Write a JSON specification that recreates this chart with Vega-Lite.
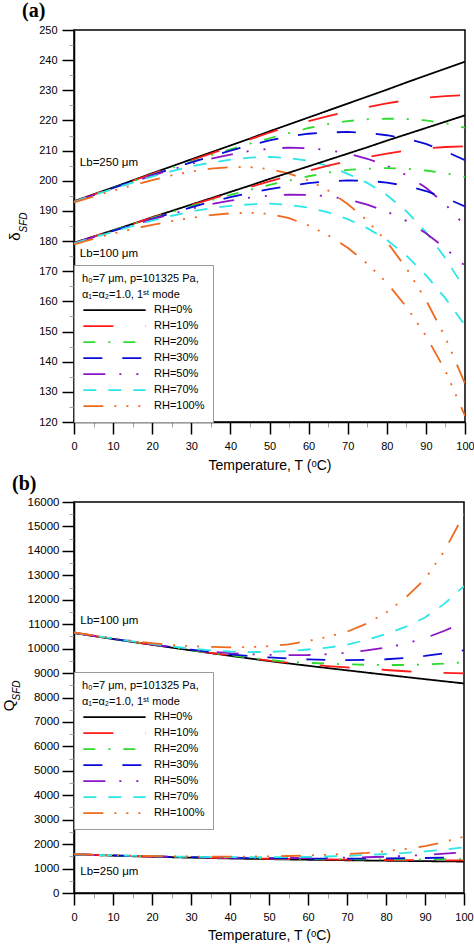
{
"$schema": "https://vega.github.io/schema/vega-lite/v6.json",
"background": "white",
"padding": {"left": 0, "top": 0, "right": 0, "bottom": 0},
"spacing": 0,
"config": {
 "font": "Liberation Sans",
 "view": {"stroke": "black", "strokeWidth": 1.5},
 "axis": {"grid": false, "domainColor": "black", "domainWidth": 1.5, "labelFont": "Liberation Sans", "labelFontSize": 11, "labelColor": "black", "titleFont": "Liberation Sans", "titleFontSize": 14, "titleFontWeight": "normal", "titleColor": "black", "labelFlush": false, "labelOverlap": false, "labelBound": false},
 "legend": {"titleFont": "Liberation Sans", "titleFontSize": 11, "titleFontWeight": "normal", "titleColor": "black", "titleLineHeight": 15.5, "titlePadding": 3, "titleLimit": 400, "labelFont": "Liberation Sans", "labelFontSize": 11, "labelColor": "black", "labelOffset": 7, "symbolType": "stroke", "symbolSize": 3880, "symbolStrokeWidth": 1.8, "clipHeight": 15.3, "rowPadding": 0, "padding": 8, "fillColor": "white", "strokeColor": "#9a9a9a"},
 "title": {"font": "Liberation Serif", "fontSize": 20, "fontWeight": "bold", "color": "black"}
},
"datasets": {
"a": [
{"L":250,"RH":"0%","T":0,"v":193.2},{"L":250,"RH":"0%","T":5,"v":195.5},{"L":250,"RH":"0%","T":10,"v":197.8},{"L":250,"RH":"0%","T":15,"v":200.1},{"L":250,"RH":"0%","T":20,"v":202.5},{"L":250,"RH":"0%","T":25,"v":204.8},{"L":250,"RH":"0%","T":30,"v":207.1},{"L":250,"RH":"0%","T":35,"v":209.4},{"L":250,"RH":"0%","T":40,"v":211.7},{"L":250,"RH":"0%","T":45,"v":214.0},{"L":250,"RH":"0%","T":50,"v":216.4},{"L":250,"RH":"0%","T":55,"v":218.7},{"L":250,"RH":"0%","T":60,"v":221.0},{"L":250,"RH":"0%","T":65,"v":223.3},{"L":250,"RH":"0%","T":70,"v":225.6},{"L":250,"RH":"0%","T":75,"v":227.9},{"L":250,"RH":"0%","T":80,"v":230.2},{"L":250,"RH":"0%","T":85,"v":232.6},{"L":250,"RH":"0%","T":90,"v":234.9},{"L":250,"RH":"0%","T":95,"v":237.2},{"L":250,"RH":"0%","T":100,"v":239.5},
{"L":250,"RH":"10%","T":0,"v":193.1},{"L":250,"RH":"10%","T":5,"v":195.4},{"L":250,"RH":"10%","T":10,"v":197.7},{"L":250,"RH":"10%","T":15,"v":200.0},{"L":250,"RH":"10%","T":20,"v":202.3},{"L":250,"RH":"10%","T":25,"v":204.6},{"L":250,"RH":"10%","T":30,"v":206.8},{"L":250,"RH":"10%","T":35,"v":209.0},{"L":250,"RH":"10%","T":40,"v":211.3},{"L":250,"RH":"10%","T":45,"v":213.7},{"L":250,"RH":"10%","T":50,"v":216.0},{"L":250,"RH":"10%","T":55,"v":218.1},{"L":250,"RH":"10%","T":60,"v":219.8},{"L":250,"RH":"10%","T":65,"v":221.4},{"L":250,"RH":"10%","T":70,"v":223.0},{"L":250,"RH":"10%","T":75,"v":224.4},{"L":250,"RH":"10%","T":80,"v":225.7},{"L":250,"RH":"10%","T":85,"v":226.7},{"L":250,"RH":"10%","T":90,"v":227.5},{"L":250,"RH":"10%","T":95,"v":228.1},{"L":250,"RH":"10%","T":100,"v":228.4},
{"L":250,"RH":"20%","T":0,"v":193.0},{"L":250,"RH":"20%","T":5,"v":195.3},{"L":250,"RH":"20%","T":10,"v":197.6},{"L":250,"RH":"20%","T":15,"v":199.8},{"L":250,"RH":"20%","T":20,"v":202.0},{"L":250,"RH":"20%","T":25,"v":204.2},{"L":250,"RH":"20%","T":30,"v":206.3},{"L":250,"RH":"20%","T":35,"v":208.4},{"L":250,"RH":"20%","T":40,"v":210.4},{"L":250,"RH":"20%","T":45,"v":212.3},{"L":250,"RH":"20%","T":50,"v":214.1},{"L":250,"RH":"20%","T":55,"v":215.8},{"L":250,"RH":"20%","T":60,"v":217.5},{"L":250,"RH":"20%","T":65,"v":218.8},{"L":250,"RH":"20%","T":70,"v":219.8},{"L":250,"RH":"20%","T":75,"v":220.4},{"L":250,"RH":"20%","T":80,"v":220.6},{"L":250,"RH":"20%","T":85,"v":220.5},{"L":250,"RH":"20%","T":90,"v":220.0},{"L":250,"RH":"20%","T":95,"v":219.1},{"L":250,"RH":"20%","T":100,"v":217.6},
{"L":250,"RH":"30%","T":0,"v":193.0},{"L":250,"RH":"30%","T":5,"v":195.3},{"L":250,"RH":"30%","T":10,"v":197.6},{"L":250,"RH":"30%","T":15,"v":199.8},{"L":250,"RH":"30%","T":20,"v":201.9},{"L":250,"RH":"30%","T":25,"v":204.0},{"L":250,"RH":"30%","T":30,"v":206.1},{"L":250,"RH":"30%","T":35,"v":208.1},{"L":250,"RH":"30%","T":40,"v":210.0},{"L":250,"RH":"30%","T":45,"v":211.8},{"L":250,"RH":"30%","T":50,"v":213.4},{"L":250,"RH":"30%","T":55,"v":214.7},{"L":250,"RH":"30%","T":60,"v":215.6},{"L":250,"RH":"30%","T":65,"v":216.0},{"L":250,"RH":"30%","T":70,"v":216.2},{"L":250,"RH":"30%","T":75,"v":215.9},{"L":250,"RH":"30%","T":80,"v":215.1},{"L":250,"RH":"30%","T":85,"v":214.0},{"L":250,"RH":"30%","T":90,"v":212.2},{"L":250,"RH":"30%","T":95,"v":209.8},{"L":250,"RH":"30%","T":100,"v":206.8},
{"L":250,"RH":"50%","T":0,"v":193.0},{"L":250,"RH":"50%","T":5,"v":195.2},{"L":250,"RH":"50%","T":10,"v":197.4},{"L":250,"RH":"50%","T":15,"v":199.6},{"L":250,"RH":"50%","T":20,"v":201.7},{"L":250,"RH":"50%","T":25,"v":203.7},{"L":250,"RH":"50%","T":30,"v":205.6},{"L":250,"RH":"50%","T":35,"v":207.3},{"L":250,"RH":"50%","T":40,"v":208.7},{"L":250,"RH":"50%","T":45,"v":209.9},{"L":250,"RH":"50%","T":50,"v":210.6},{"L":250,"RH":"50%","T":55,"v":211.0},{"L":250,"RH":"50%","T":60,"v":210.8},{"L":250,"RH":"50%","T":65,"v":210.2},{"L":250,"RH":"50%","T":70,"v":209.0},{"L":250,"RH":"50%","T":75,"v":207.3},{"L":250,"RH":"50%","T":80,"v":205.0},{"L":250,"RH":"50%","T":85,"v":201.9},{"L":250,"RH":"50%","T":90,"v":197.7},{"L":250,"RH":"50%","T":95,"v":192.2},{"L":250,"RH":"50%","T":100,"v":185.0},
{"L":250,"RH":"70%","T":0,"v":193.0},{"L":250,"RH":"70%","T":5,"v":195.2},{"L":250,"RH":"70%","T":10,"v":197.3},{"L":250,"RH":"70%","T":15,"v":199.4},{"L":250,"RH":"70%","T":20,"v":201.4},{"L":250,"RH":"70%","T":25,"v":203.2},{"L":250,"RH":"70%","T":30,"v":204.8},{"L":250,"RH":"70%","T":35,"v":206.0},{"L":250,"RH":"70%","T":40,"v":207.0},{"L":250,"RH":"70%","T":45,"v":207.7},{"L":250,"RH":"70%","T":50,"v":207.9},{"L":250,"RH":"70%","T":55,"v":207.5},{"L":250,"RH":"70%","T":60,"v":206.6},{"L":250,"RH":"70%","T":65,"v":204.9},{"L":250,"RH":"70%","T":70,"v":202.3},{"L":250,"RH":"70%","T":75,"v":199.3},{"L":250,"RH":"70%","T":80,"v":195.3},{"L":250,"RH":"70%","T":85,"v":189.9},{"L":250,"RH":"70%","T":90,"v":183.0},{"L":250,"RH":"70%","T":95,"v":174.3},{"L":250,"RH":"70%","T":100,"v":164.0},
{"L":250,"RH":"100%","T":0,"v":192.8},{"L":250,"RH":"100%","T":5,"v":194.8},{"L":250,"RH":"100%","T":10,"v":196.7},{"L":250,"RH":"100%","T":15,"v":198.5},{"L":250,"RH":"100%","T":20,"v":200.2},{"L":250,"RH":"100%","T":25,"v":201.8},{"L":250,"RH":"100%","T":30,"v":203.1},{"L":250,"RH":"100%","T":35,"v":204.0},{"L":250,"RH":"100%","T":40,"v":204.5},{"L":250,"RH":"100%","T":45,"v":204.5},{"L":250,"RH":"100%","T":50,"v":203.9},{"L":250,"RH":"100%","T":55,"v":202.4},{"L":250,"RH":"100%","T":60,"v":200.1},{"L":250,"RH":"100%","T":65,"v":196.8},{"L":250,"RH":"100%","T":70,"v":192.3},{"L":250,"RH":"100%","T":75,"v":186.8},{"L":250,"RH":"100%","T":80,"v":179.8},{"L":250,"RH":"100%","T":85,"v":171.0},{"L":250,"RH":"100%","T":90,"v":160.5},{"L":250,"RH":"100%","T":95,"v":148.0},{"L":250,"RH":"100%","T":100,"v":132.7},
{"L":100,"RH":"0%","T":0,"v":179.4},{"L":100,"RH":"0%","T":5,"v":181.5},{"L":100,"RH":"0%","T":10,"v":183.6},{"L":100,"RH":"0%","T":15,"v":185.7},{"L":100,"RH":"0%","T":20,"v":187.9},{"L":100,"RH":"0%","T":25,"v":190.0},{"L":100,"RH":"0%","T":30,"v":192.1},{"L":100,"RH":"0%","T":35,"v":194.2},{"L":100,"RH":"0%","T":40,"v":196.3},{"L":100,"RH":"0%","T":45,"v":198.4},{"L":100,"RH":"0%","T":50,"v":200.6},{"L":100,"RH":"0%","T":55,"v":202.7},{"L":100,"RH":"0%","T":60,"v":204.8},{"L":100,"RH":"0%","T":65,"v":206.9},{"L":100,"RH":"0%","T":70,"v":209.0},{"L":100,"RH":"0%","T":75,"v":211.1},{"L":100,"RH":"0%","T":80,"v":213.3},{"L":100,"RH":"0%","T":85,"v":215.4},{"L":100,"RH":"0%","T":90,"v":217.5},{"L":100,"RH":"0%","T":95,"v":219.6},{"L":100,"RH":"0%","T":100,"v":221.7},
{"L":100,"RH":"10%","T":0,"v":179.4},{"L":100,"RH":"10%","T":5,"v":181.5},{"L":100,"RH":"10%","T":10,"v":183.6},{"L":100,"RH":"10%","T":15,"v":185.7},{"L":100,"RH":"10%","T":20,"v":187.8},{"L":100,"RH":"10%","T":25,"v":189.9},{"L":100,"RH":"10%","T":30,"v":191.9},{"L":100,"RH":"10%","T":35,"v":193.9},{"L":100,"RH":"10%","T":40,"v":195.9},{"L":100,"RH":"10%","T":45,"v":197.9},{"L":100,"RH":"10%","T":50,"v":199.8},{"L":100,"RH":"10%","T":55,"v":201.6},{"L":100,"RH":"10%","T":60,"v":203.3},{"L":100,"RH":"10%","T":65,"v":205.0},{"L":100,"RH":"10%","T":70,"v":206.5},{"L":100,"RH":"10%","T":75,"v":207.8},{"L":100,"RH":"10%","T":80,"v":209.0},{"L":100,"RH":"10%","T":85,"v":210.0},{"L":100,"RH":"10%","T":90,"v":210.8},{"L":100,"RH":"10%","T":95,"v":211.2},{"L":100,"RH":"10%","T":100,"v":211.4},
{"L":100,"RH":"20%","T":0,"v":179.3},{"L":100,"RH":"20%","T":5,"v":181.4},{"L":100,"RH":"20%","T":10,"v":183.5},{"L":100,"RH":"20%","T":15,"v":185.6},{"L":100,"RH":"20%","T":20,"v":187.6},{"L":100,"RH":"20%","T":25,"v":189.6},{"L":100,"RH":"20%","T":30,"v":191.6},{"L":100,"RH":"20%","T":35,"v":193.5},{"L":100,"RH":"20%","T":40,"v":195.3},{"L":100,"RH":"20%","T":45,"v":197.0},{"L":100,"RH":"20%","T":50,"v":198.6},{"L":100,"RH":"20%","T":55,"v":200.1},{"L":100,"RH":"20%","T":60,"v":201.5},{"L":100,"RH":"20%","T":65,"v":202.7},{"L":100,"RH":"20%","T":70,"v":203.6},{"L":100,"RH":"20%","T":75,"v":204.0},{"L":100,"RH":"20%","T":80,"v":204.2},{"L":100,"RH":"20%","T":85,"v":204.0},{"L":100,"RH":"20%","T":90,"v":203.4},{"L":100,"RH":"20%","T":95,"v":202.5},{"L":100,"RH":"20%","T":100,"v":201.3},
{"L":100,"RH":"30%","T":0,"v":179.3},{"L":100,"RH":"30%","T":5,"v":181.4},{"L":100,"RH":"30%","T":10,"v":183.4},{"L":100,"RH":"30%","T":15,"v":185.4},{"L":100,"RH":"30%","T":20,"v":187.4},{"L":100,"RH":"30%","T":25,"v":189.3},{"L":100,"RH":"30%","T":30,"v":191.2},{"L":100,"RH":"30%","T":35,"v":193.0},{"L":100,"RH":"30%","T":40,"v":194.6},{"L":100,"RH":"30%","T":45,"v":196.0},{"L":100,"RH":"30%","T":50,"v":197.2},{"L":100,"RH":"30%","T":55,"v":198.3},{"L":100,"RH":"30%","T":60,"v":199.2},{"L":100,"RH":"30%","T":65,"v":199.8},{"L":100,"RH":"30%","T":70,"v":200.1},{"L":100,"RH":"30%","T":75,"v":200.0},{"L":100,"RH":"30%","T":80,"v":199.4},{"L":100,"RH":"30%","T":85,"v":198.3},{"L":100,"RH":"30%","T":90,"v":196.6},{"L":100,"RH":"30%","T":95,"v":194.3},{"L":100,"RH":"30%","T":100,"v":191.5},
{"L":100,"RH":"50%","T":0,"v":179.3},{"L":100,"RH":"50%","T":5,"v":181.3},{"L":100,"RH":"50%","T":10,"v":183.3},{"L":100,"RH":"50%","T":15,"v":185.3},{"L":100,"RH":"50%","T":20,"v":187.2},{"L":100,"RH":"50%","T":25,"v":189.0},{"L":100,"RH":"50%","T":30,"v":190.7},{"L":100,"RH":"50%","T":35,"v":192.2},{"L":100,"RH":"50%","T":40,"v":193.4},{"L":100,"RH":"50%","T":45,"v":194.4},{"L":100,"RH":"50%","T":50,"v":195.1},{"L":100,"RH":"50%","T":55,"v":195.4},{"L":100,"RH":"50%","T":60,"v":195.3},{"L":100,"RH":"50%","T":65,"v":194.9},{"L":100,"RH":"50%","T":70,"v":193.8},{"L":100,"RH":"50%","T":75,"v":192.1},{"L":100,"RH":"50%","T":80,"v":189.8},{"L":100,"RH":"50%","T":85,"v":186.7},{"L":100,"RH":"50%","T":90,"v":182.6},{"L":100,"RH":"50%","T":95,"v":177.6},{"L":100,"RH":"50%","T":100,"v":171.8},
{"L":100,"RH":"70%","T":0,"v":179.2},{"L":100,"RH":"70%","T":5,"v":181.2},{"L":100,"RH":"70%","T":10,"v":183.1},{"L":100,"RH":"70%","T":15,"v":185.0},{"L":100,"RH":"70%","T":20,"v":186.8},{"L":100,"RH":"70%","T":25,"v":188.4},{"L":100,"RH":"70%","T":30,"v":189.8},{"L":100,"RH":"70%","T":35,"v":190.9},{"L":100,"RH":"70%","T":40,"v":191.7},{"L":100,"RH":"70%","T":45,"v":192.2},{"L":100,"RH":"70%","T":50,"v":192.4},{"L":100,"RH":"70%","T":55,"v":192.0},{"L":100,"RH":"70%","T":60,"v":191.1},{"L":100,"RH":"70%","T":65,"v":189.5},{"L":100,"RH":"70%","T":70,"v":187.3},{"L":100,"RH":"70%","T":75,"v":184.3},{"L":100,"RH":"70%","T":80,"v":180.4},{"L":100,"RH":"70%","T":85,"v":175.2},{"L":100,"RH":"70%","T":90,"v":168.7},{"L":100,"RH":"70%","T":95,"v":161.0},{"L":100,"RH":"70%","T":100,"v":152.0},
{"L":100,"RH":"100%","T":0,"v":178.9},{"L":100,"RH":"100%","T":5,"v":180.8},{"L":100,"RH":"100%","T":10,"v":182.5},{"L":100,"RH":"100%","T":15,"v":184.0},{"L":100,"RH":"100%","T":20,"v":185.4},{"L":100,"RH":"100%","T":25,"v":186.6},{"L":100,"RH":"100%","T":30,"v":187.7},{"L":100,"RH":"100%","T":35,"v":188.6},{"L":100,"RH":"100%","T":40,"v":189.2},{"L":100,"RH":"100%","T":45,"v":189.4},{"L":100,"RH":"100%","T":50,"v":189.0},{"L":100,"RH":"100%","T":55,"v":187.6},{"L":100,"RH":"100%","T":60,"v":185.2},{"L":100,"RH":"100%","T":65,"v":181.9},{"L":100,"RH":"100%","T":70,"v":177.8},{"L":100,"RH":"100%","T":75,"v":172.5},{"L":100,"RH":"100%","T":80,"v":166.2},{"L":100,"RH":"100%","T":85,"v":158.2},{"L":100,"RH":"100%","T":90,"v":148.6},{"L":100,"RH":"100%","T":95,"v":137.0},{"L":100,"RH":"100%","T":100,"v":122.0}
],
"b": [
{"L":100,"RH":"0%","T":0,"v":10640},{"L":100,"RH":"0%","T":5,"v":10515},{"L":100,"RH":"0%","T":10,"v":10393},{"L":100,"RH":"0%","T":15,"v":10274},{"L":100,"RH":"0%","T":20,"v":10157},{"L":100,"RH":"0%","T":25,"v":10042},{"L":100,"RH":"0%","T":30,"v":9929},{"L":100,"RH":"0%","T":35,"v":9818},{"L":100,"RH":"0%","T":40,"v":9707},{"L":100,"RH":"0%","T":45,"v":9598},{"L":100,"RH":"0%","T":50,"v":9490},{"L":100,"RH":"0%","T":55,"v":9394},{"L":100,"RH":"0%","T":60,"v":9299},{"L":100,"RH":"0%","T":65,"v":9205},{"L":100,"RH":"0%","T":70,"v":9112},{"L":100,"RH":"0%","T":75,"v":9020},{"L":100,"RH":"0%","T":80,"v":8929},{"L":100,"RH":"0%","T":85,"v":8839},{"L":100,"RH":"0%","T":90,"v":8750},{"L":100,"RH":"0%","T":95,"v":8662},{"L":100,"RH":"0%","T":100,"v":8575},
{"L":100,"RH":"10%","T":0,"v":10645},{"L":100,"RH":"10%","T":5,"v":10520},{"L":100,"RH":"10%","T":10,"v":10398},{"L":100,"RH":"10%","T":15,"v":10280},{"L":100,"RH":"10%","T":20,"v":10163},{"L":100,"RH":"10%","T":25,"v":10050},{"L":100,"RH":"10%","T":30,"v":9938},{"L":100,"RH":"10%","T":35,"v":9828},{"L":100,"RH":"10%","T":40,"v":9720},{"L":100,"RH":"10%","T":45,"v":9614},{"L":100,"RH":"10%","T":50,"v":9512},{"L":100,"RH":"10%","T":55,"v":9425},{"L":100,"RH":"10%","T":60,"v":9350},{"L":100,"RH":"10%","T":65,"v":9288},{"L":100,"RH":"10%","T":70,"v":9232},{"L":100,"RH":"10%","T":75,"v":9178},{"L":100,"RH":"10%","T":80,"v":9125},{"L":100,"RH":"10%","T":85,"v":9075},{"L":100,"RH":"10%","T":90,"v":9035},{"L":100,"RH":"10%","T":95,"v":9005},{"L":100,"RH":"10%","T":100,"v":8990},
{"L":100,"RH":"20%","T":0,"v":10645},{"L":100,"RH":"20%","T":5,"v":10522},{"L":100,"RH":"20%","T":10,"v":10400},{"L":100,"RH":"20%","T":15,"v":10282},{"L":100,"RH":"20%","T":20,"v":10166},{"L":100,"RH":"20%","T":25,"v":10053},{"L":100,"RH":"20%","T":30,"v":9943},{"L":100,"RH":"20%","T":35,"v":9836},{"L":100,"RH":"20%","T":40,"v":9732},{"L":100,"RH":"20%","T":45,"v":9630},{"L":100,"RH":"20%","T":50,"v":9535},{"L":100,"RH":"20%","T":55,"v":9465},{"L":100,"RH":"20%","T":60,"v":9418},{"L":100,"RH":"20%","T":65,"v":9385},{"L":100,"RH":"20%","T":70,"v":9358},{"L":100,"RH":"20%","T":75,"v":9338},{"L":100,"RH":"20%","T":80,"v":9330},{"L":100,"RH":"20%","T":85,"v":9330},{"L":100,"RH":"20%","T":90,"v":9348},{"L":100,"RH":"20%","T":95,"v":9390},{"L":100,"RH":"20%","T":100,"v":9440},
{"L":100,"RH":"30%","T":0,"v":10648},{"L":100,"RH":"30%","T":5,"v":10525},{"L":100,"RH":"30%","T":10,"v":10403},{"L":100,"RH":"30%","T":15,"v":10286},{"L":100,"RH":"30%","T":20,"v":10172},{"L":100,"RH":"30%","T":25,"v":10062},{"L":100,"RH":"30%","T":30,"v":9956},{"L":100,"RH":"30%","T":35,"v":9855},{"L":100,"RH":"30%","T":40,"v":9765},{"L":100,"RH":"30%","T":45,"v":9695},{"L":100,"RH":"30%","T":50,"v":9640},{"L":100,"RH":"30%","T":55,"v":9595},{"L":100,"RH":"30%","T":60,"v":9560},{"L":100,"RH":"30%","T":65,"v":9538},{"L":100,"RH":"30%","T":70,"v":9530},{"L":100,"RH":"30%","T":75,"v":9538},{"L":100,"RH":"30%","T":80,"v":9565},{"L":100,"RH":"30%","T":85,"v":9620},{"L":100,"RH":"30%","T":90,"v":9705},{"L":100,"RH":"30%","T":95,"v":9810},{"L":100,"RH":"30%","T":100,"v":9930},
{"L":100,"RH":"50%","T":0,"v":10650},{"L":100,"RH":"50%","T":5,"v":10527},{"L":100,"RH":"50%","T":10,"v":10405},{"L":100,"RH":"50%","T":15,"v":10290},{"L":100,"RH":"50%","T":20,"v":10177},{"L":100,"RH":"50%","T":25,"v":10068},{"L":100,"RH":"50%","T":30,"v":9965},{"L":100,"RH":"50%","T":35,"v":9880},{"L":100,"RH":"50%","T":40,"v":9815},{"L":100,"RH":"50%","T":45,"v":9772},{"L":100,"RH":"50%","T":50,"v":9745},{"L":100,"RH":"50%","T":55,"v":9732},{"L":100,"RH":"50%","T":60,"v":9740},{"L":100,"RH":"50%","T":65,"v":9772},{"L":100,"RH":"50%","T":70,"v":9830},{"L":100,"RH":"50%","T":75,"v":9925},{"L":100,"RH":"50%","T":80,"v":10040},{"L":100,"RH":"50%","T":85,"v":10200},{"L":100,"RH":"50%","T":90,"v":10430},{"L":100,"RH":"50%","T":95,"v":10730},{"L":100,"RH":"50%","T":100,"v":11090},
{"L":100,"RH":"70%","T":0,"v":10652},{"L":100,"RH":"70%","T":5,"v":10530},{"L":100,"RH":"70%","T":10,"v":10410},{"L":100,"RH":"70%","T":15,"v":10296},{"L":100,"RH":"70%","T":20,"v":10190},{"L":100,"RH":"70%","T":25,"v":10090},{"L":100,"RH":"70%","T":30,"v":10002},{"L":100,"RH":"70%","T":35,"v":9932},{"L":100,"RH":"70%","T":40,"v":9882},{"L":100,"RH":"70%","T":45,"v":9860},{"L":100,"RH":"70%","T":50,"v":9865},{"L":100,"RH":"70%","T":55,"v":9902},{"L":100,"RH":"70%","T":60,"v":9965},{"L":100,"RH":"70%","T":65,"v":10040},{"L":100,"RH":"70%","T":70,"v":10155},{"L":100,"RH":"70%","T":75,"v":10360},{"L":100,"RH":"70%","T":80,"v":10600},{"L":100,"RH":"70%","T":85,"v":10890},{"L":100,"RH":"70%","T":90,"v":11270},{"L":100,"RH":"70%","T":95,"v":11840},{"L":100,"RH":"70%","T":100,"v":12560},
{"L":100,"RH":"100%","T":0,"v":10660},{"L":100,"RH":"100%","T":5,"v":10545},{"L":100,"RH":"100%","T":10,"v":10430},{"L":100,"RH":"100%","T":15,"v":10320},{"L":100,"RH":"100%","T":20,"v":10220},{"L":100,"RH":"100%","T":25,"v":10150},{"L":100,"RH":"100%","T":30,"v":10100},{"L":100,"RH":"100%","T":35,"v":10070},{"L":100,"RH":"100%","T":40,"v":10055},{"L":100,"RH":"100%","T":45,"v":10062},{"L":100,"RH":"100%","T":50,"v":10100},{"L":100,"RH":"100%","T":55,"v":10170},{"L":100,"RH":"100%","T":60,"v":10310},{"L":100,"RH":"100%","T":65,"v":10480},{"L":100,"RH":"100%","T":70,"v":10690},{"L":100,"RH":"100%","T":75,"v":11020},{"L":100,"RH":"100%","T":80,"v":11470},{"L":100,"RH":"100%","T":85,"v":12080},{"L":100,"RH":"100%","T":90,"v":12850},{"L":100,"RH":"100%","T":95,"v":14000},{"L":100,"RH":"100%","T":100,"v":15500},
{"L":250,"RH":"0%","T":0,"v":1582},{"L":250,"RH":"0%","T":5,"v":1554},{"L":250,"RH":"0%","T":10,"v":1528},{"L":250,"RH":"0%","T":15,"v":1505},{"L":250,"RH":"0%","T":20,"v":1484},{"L":250,"RH":"0%","T":25,"v":1464},{"L":250,"RH":"0%","T":30,"v":1446},{"L":250,"RH":"0%","T":35,"v":1429},{"L":250,"RH":"0%","T":40,"v":1413},{"L":250,"RH":"0%","T":45,"v":1399},{"L":250,"RH":"0%","T":50,"v":1386},{"L":250,"RH":"0%","T":55,"v":1373},{"L":250,"RH":"0%","T":60,"v":1361},{"L":250,"RH":"0%","T":65,"v":1350},{"L":250,"RH":"0%","T":70,"v":1340},{"L":250,"RH":"0%","T":75,"v":1330},{"L":250,"RH":"0%","T":80,"v":1321},{"L":250,"RH":"0%","T":85,"v":1312},{"L":250,"RH":"0%","T":90,"v":1303},{"L":250,"RH":"0%","T":95,"v":1295},{"L":250,"RH":"0%","T":100,"v":1287},
{"L":250,"RH":"10%","T":0,"v":1585},{"L":250,"RH":"10%","T":5,"v":1557},{"L":250,"RH":"10%","T":10,"v":1533},{"L":250,"RH":"10%","T":15,"v":1512},{"L":250,"RH":"10%","T":20,"v":1492},{"L":250,"RH":"10%","T":25,"v":1474},{"L":250,"RH":"10%","T":30,"v":1457},{"L":250,"RH":"10%","T":35,"v":1441},{"L":250,"RH":"10%","T":40,"v":1427},{"L":250,"RH":"10%","T":45,"v":1414},{"L":250,"RH":"10%","T":50,"v":1402},{"L":250,"RH":"10%","T":55,"v":1390},{"L":250,"RH":"10%","T":60,"v":1380},{"L":250,"RH":"10%","T":65,"v":1371},{"L":250,"RH":"10%","T":70,"v":1363},{"L":250,"RH":"10%","T":75,"v":1356},{"L":250,"RH":"10%","T":80,"v":1350},{"L":250,"RH":"10%","T":85,"v":1345},{"L":250,"RH":"10%","T":90,"v":1341},{"L":250,"RH":"10%","T":95,"v":1338},{"L":250,"RH":"10%","T":100,"v":1336},
{"L":250,"RH":"20%","T":0,"v":1585},{"L":250,"RH":"20%","T":5,"v":1558},{"L":250,"RH":"20%","T":10,"v":1535},{"L":250,"RH":"20%","T":15,"v":1514},{"L":250,"RH":"20%","T":20,"v":1495},{"L":250,"RH":"20%","T":25,"v":1478},{"L":250,"RH":"20%","T":30,"v":1462},{"L":250,"RH":"20%","T":35,"v":1448},{"L":250,"RH":"20%","T":40,"v":1435},{"L":250,"RH":"20%","T":45,"v":1423},{"L":250,"RH":"20%","T":50,"v":1412},{"L":250,"RH":"20%","T":55,"v":1402},{"L":250,"RH":"20%","T":60,"v":1394},{"L":250,"RH":"20%","T":65,"v":1388},{"L":250,"RH":"20%","T":70,"v":1383},{"L":250,"RH":"20%","T":75,"v":1380},{"L":250,"RH":"20%","T":80,"v":1378},{"L":250,"RH":"20%","T":85,"v":1378},{"L":250,"RH":"20%","T":90,"v":1380},{"L":250,"RH":"20%","T":95,"v":1385},{"L":250,"RH":"20%","T":100,"v":1392},
{"L":250,"RH":"30%","T":0,"v":1585},{"L":250,"RH":"30%","T":5,"v":1558},{"L":250,"RH":"30%","T":10,"v":1535},{"L":250,"RH":"30%","T":15,"v":1515},{"L":250,"RH":"30%","T":20,"v":1497},{"L":250,"RH":"30%","T":25,"v":1480},{"L":250,"RH":"30%","T":30,"v":1465},{"L":250,"RH":"30%","T":35,"v":1452},{"L":250,"RH":"30%","T":40,"v":1440},{"L":250,"RH":"30%","T":45,"v":1430},{"L":250,"RH":"30%","T":50,"v":1422},{"L":250,"RH":"30%","T":55,"v":1415},{"L":250,"RH":"30%","T":60,"v":1410},{"L":250,"RH":"30%","T":65,"v":1408},{"L":250,"RH":"30%","T":70,"v":1408},{"L":250,"RH":"30%","T":75,"v":1410},{"L":250,"RH":"30%","T":80,"v":1415},{"L":250,"RH":"30%","T":85,"v":1422},{"L":250,"RH":"30%","T":90,"v":1432},{"L":250,"RH":"30%","T":95,"v":1445},{"L":250,"RH":"30%","T":100,"v":1460},
{"L":250,"RH":"50%","T":0,"v":1585},{"L":250,"RH":"50%","T":5,"v":1560},{"L":250,"RH":"50%","T":10,"v":1538},{"L":250,"RH":"50%","T":15,"v":1518},{"L":250,"RH":"50%","T":20,"v":1500},{"L":250,"RH":"50%","T":25,"v":1485},{"L":250,"RH":"50%","T":30,"v":1470},{"L":250,"RH":"50%","T":35,"v":1458},{"L":250,"RH":"50%","T":40,"v":1448},{"L":250,"RH":"50%","T":45,"v":1440},{"L":250,"RH":"50%","T":50,"v":1435},{"L":250,"RH":"50%","T":55,"v":1432},{"L":250,"RH":"50%","T":60,"v":1432},{"L":250,"RH":"50%","T":65,"v":1437},{"L":250,"RH":"50%","T":70,"v":1447},{"L":250,"RH":"50%","T":75,"v":1462},{"L":250,"RH":"50%","T":80,"v":1485},{"L":250,"RH":"50%","T":85,"v":1515},{"L":250,"RH":"50%","T":90,"v":1560},{"L":250,"RH":"50%","T":95,"v":1610},{"L":250,"RH":"50%","T":100,"v":1665},
{"L":250,"RH":"70%","T":0,"v":1585},{"L":250,"RH":"70%","T":5,"v":1560},{"L":250,"RH":"70%","T":10,"v":1540},{"L":250,"RH":"70%","T":15,"v":1522},{"L":250,"RH":"70%","T":20,"v":1506},{"L":250,"RH":"70%","T":25,"v":1492},{"L":250,"RH":"70%","T":30,"v":1480},{"L":250,"RH":"70%","T":35,"v":1472},{"L":250,"RH":"70%","T":40,"v":1466},{"L":250,"RH":"70%","T":45,"v":1463},{"L":250,"RH":"70%","T":50,"v":1463},{"L":250,"RH":"70%","T":55,"v":1468},{"L":250,"RH":"70%","T":60,"v":1478},{"L":250,"RH":"70%","T":65,"v":1493},{"L":250,"RH":"70%","T":70,"v":1520},{"L":250,"RH":"70%","T":75,"v":1555},{"L":250,"RH":"70%","T":80,"v":1595},{"L":250,"RH":"70%","T":85,"v":1640},{"L":250,"RH":"70%","T":90,"v":1700},{"L":250,"RH":"70%","T":95,"v":1775},{"L":250,"RH":"70%","T":100,"v":1870},
{"L":250,"RH":"100%","T":0,"v":1590},{"L":250,"RH":"100%","T":5,"v":1565},{"L":250,"RH":"100%","T":10,"v":1545},{"L":250,"RH":"100%","T":15,"v":1528},{"L":250,"RH":"100%","T":20,"v":1512},{"L":250,"RH":"100%","T":25,"v":1500},{"L":250,"RH":"100%","T":30,"v":1492},{"L":250,"RH":"100%","T":35,"v":1488},{"L":250,"RH":"100%","T":40,"v":1488},{"L":250,"RH":"100%","T":45,"v":1492},{"L":250,"RH":"100%","T":50,"v":1500},{"L":250,"RH":"100%","T":55,"v":1515},{"L":250,"RH":"100%","T":60,"v":1538},{"L":250,"RH":"100%","T":65,"v":1565},{"L":250,"RH":"100%","T":70,"v":1595},{"L":250,"RH":"100%","T":75,"v":1640},{"L":250,"RH":"100%","T":80,"v":1710},{"L":250,"RH":"100%","T":85,"v":1800},{"L":250,"RH":"100%","T":90,"v":1920},{"L":250,"RH":"100%","T":95,"v":2090},{"L":250,"RH":"100%","T":100,"v":2310}
]
},
"vconcat": [
{
 "width": 391, "height": 392,
 "title": {"text": "(a)", "anchor": "start", "frame": "group", "offset": 3, "dx": -52},
 "encoding": {
  "x": {"field": "T", "type": "quantitative", "scale": {"domain": [0, 100], "nice": false},
   "axis": {"values": [0,5,10,15,20,25,30,35,40,45,50,55,60,65,70,75,80,85,90,95,100], "labelExpr": "datum.value % 10 === 0 ? datum.label : ''", "labelOverlap": false,
    "tickSize": {"condition": {"test": "datum.value % 10 === 0", "value": 12}, "value": 5},
    "tickColor": {"condition": {"test": "datum.value % 10 === 0", "value": "black"}, "value": "#a0a0a0"},
    "tickWidth": {"condition": {"test": "datum.value % 10 === 0", "value": 1.5}, "value": 1},
    "labelPadding": 6, "title": "Temperature, T (ᵒC)", "titlePadding": 7}}
 },
 "layer": [
  {
   "data": {"name": "a"},
   "mark": {"type": "line", "strokeWidth": 1.8, "clip": true},
   "encoding": {
    "y": {"field": "v", "type": "quantitative", "scale": {"domain": [120, 250], "nice": false, "zero": false},
     "axis": {"values": [120,125,130,135,140,145,150,155,160,165,170,175,180,185,190,195,200,205,210,215,220,225,230,235,240,245,250], "labelExpr": "datum.value % 10 === 0 ? datum.label : ''", "labelOverlap": false,
      "tickSize": {"condition": {"test": "datum.value % 10 === 0", "value": 12}, "value": 5},
      "tickColor": {"condition": {"test": "datum.value % 10 === 0", "value": "black"}, "value": "#a0a0a0"},
      "tickWidth": {"condition": {"test": "datum.value % 10 === 0", "value": 1.5}, "value": 1},
      "labelPadding": 5, "title": "δ", "titleX": -55, "titleY": 206, "titleBaseline": "alphabetic", "titleFontSize": 15}},
    "color": {"field": "RH", "type": "nominal", "scale": {"domain": ["0%","10%","20%","30%","50%","70%","100%"], "range": ["#000000","#ff1a1a","#2edc2e","#0a0ad8","#8a14c8","#2ee6e6","#f06a1e"]},
     "legend": {"orient": "none", "legendX": 0, "legendY": 235, "title": ["h₀=7 μm, p=101325 Pa,", "α₁=α₂=1.0, 1ˢᵗ mode"], "labelExpr": "'RH=' + datum.label"}},
    "strokeDash": {"field": "RH", "type": "nominal", "scale": {"domain": ["0%","10%","20%","30%","50%","70%","100%"], "range": [[1,0],[30,32],[12,13,2,13],[19,20],[22,14,2,15,2,17],[13,12],[20,11,2,10,2,10,2,12]]},
     "legend": {"orient": "none", "legendX": 0, "legendY": 235, "title": ["h₀=7 μm, p=101325 Pa,", "α₁=α₂=1.0, 1ˢᵗ mode"], "labelExpr": "'RH=' + datum.label"}},
    "detail": {"field": "L", "type": "nominal"}
   }
  },
  {
   "data": {"values": [{"T": 1.5, "v": 205.8, "label": "Lb=250 μm"}, {"T": 1.5, "v": 175.8, "label": "Lb=100 μm"}]},
   "mark": {"type": "text", "align": "left", "baseline": "middle", "fontSize": 11.5, "font": "Liberation Sans", "color": "black"},
   "encoding": {
    "y": {"field": "v", "type": "quantitative", "axis": {"orient": "left", "labels": false, "ticks": false, "domain": false, "title": "SFD", "titleFontStyle": "italic", "titleFontSize": 10, "titleX": -48, "titleY": 192, "titleBaseline": "alphabetic"}},
    "text": {"field": "label"}
   }
  }
 ],
 "resolve": {"axis": {"y": "independent"}}
},
{
 "width": 390, "height": 391,
 "title": {"text": "(b)", "anchor": "start", "frame": "group", "offset": 2, "dx": -62},
 "encoding": {
  "x": {"field": "T", "type": "quantitative", "scale": {"domain": [0, 100], "nice": false},
   "axis": {"values": [0,5,10,15,20,25,30,35,40,45,50,55,60,65,70,75,80,85,90,95,100], "labelExpr": "datum.value % 10 === 0 ? datum.label : ''", "labelOverlap": false,
    "tickSize": {"condition": {"test": "datum.value % 10 === 0", "value": 12}, "value": 5},
    "tickColor": {"condition": {"test": "datum.value % 10 === 0", "value": "black"}, "value": "#a0a0a0"},
    "tickWidth": {"condition": {"test": "datum.value % 10 === 0", "value": 1.5}, "value": 1},
    "labelPadding": 6, "title": "Temperature, T (ᵒC)", "titlePadding": 6}}
 },
 "layer": [
  {
   "data": {"name": "b"},
   "mark": {"type": "line", "strokeWidth": 1.8, "clip": true},
   "encoding": {
    "y": {"field": "v", "type": "quantitative", "scale": {"domain": [0, 16000], "nice": false},
     "axis": {"values": [0,500,1000,1500,2000,2500,3000,3500,4000,4500,5000,5500,6000,6500,7000,7500,8000,8500,9000,9500,10000,10500,11000,11500,12000,12500,13000,13500,14000,14500,15000,15500,16000], "format": "d", "labelExpr": "datum.value % 1000 === 0 ? datum.label : ''", "labelOverlap": false,
      "tickSize": {"condition": {"test": "datum.value % 1000 === 0", "value": 12}, "value": 5},
      "tickColor": {"condition": {"test": "datum.value % 1000 === 0", "value": "black"}, "value": "#a0a0a0"},
      "tickWidth": {"condition": {"test": "datum.value % 1000 === 0", "value": 1.5}, "value": 1},
      "labelPadding": 3, "labelFontSize": 11.5, "title": "Q", "titleX": -61, "titleY": 203, "titleBaseline": "alphabetic", "titleFontSize": 15}},
    "color": {"field": "RH", "type": "nominal", "scale": {"domain": ["0%","10%","20%","30%","50%","70%","100%"], "range": ["#000000","#ff1a1a","#2edc2e","#0a0ad8","#8a14c8","#2ee6e6","#f06a1e"]},
     "legend": {"orient": "none", "legendX": 0, "legendY": 170, "title": ["h₀=7 μm,  p=101325 Pa,", "α₁=α₂=1.0,  1ˢᵗ mode"], "labelExpr": "'RH=' + datum.label"}},
    "strokeDash": {"field": "RH", "type": "nominal", "scale": {"domain": ["0%","10%","20%","30%","50%","70%","100%"], "range": [[1,0],[30,32],[12,13,2,13],[19,20],[22,14,2,15,2,17],[13,12],[20,11,2,10,2,10,2,12]]},
     "legend": {"orient": "none", "legendX": 0, "legendY": 170, "title": ["h₀=7 μm,  p=101325 Pa,", "α₁=α₂=1.0,  1ˢᵗ mode"], "labelExpr": "'RH=' + datum.label"}},
    "detail": {"field": "L", "type": "nominal"}
   }
  },
  {
   "data": {"values": [{"T": 1.6, "v": 11135, "label": "Lb=100 μm"}, {"T": 1.6, "v": 845, "label": "Lb=250 μm"}]},
   "mark": {"type": "text", "align": "left", "baseline": "middle", "fontSize": 11.5, "font": "Liberation Sans", "color": "black"},
   "encoding": {
    "y": {"field": "v", "type": "quantitative", "axis": {"orient": "left", "labels": false, "ticks": false, "domain": false, "title": "SFD", "titleFontStyle": "italic", "titleFontSize": 10, "titleX": -55, "titleY": 188, "titleBaseline": "alphabetic"}},
    "text": {"field": "label"}
   }
  }
 ],
 "resolve": {"axis": {"y": "independent"}}
}
],
"resolve": {"scale": {"color": "independent", "strokeDash": "independent"}}
}
